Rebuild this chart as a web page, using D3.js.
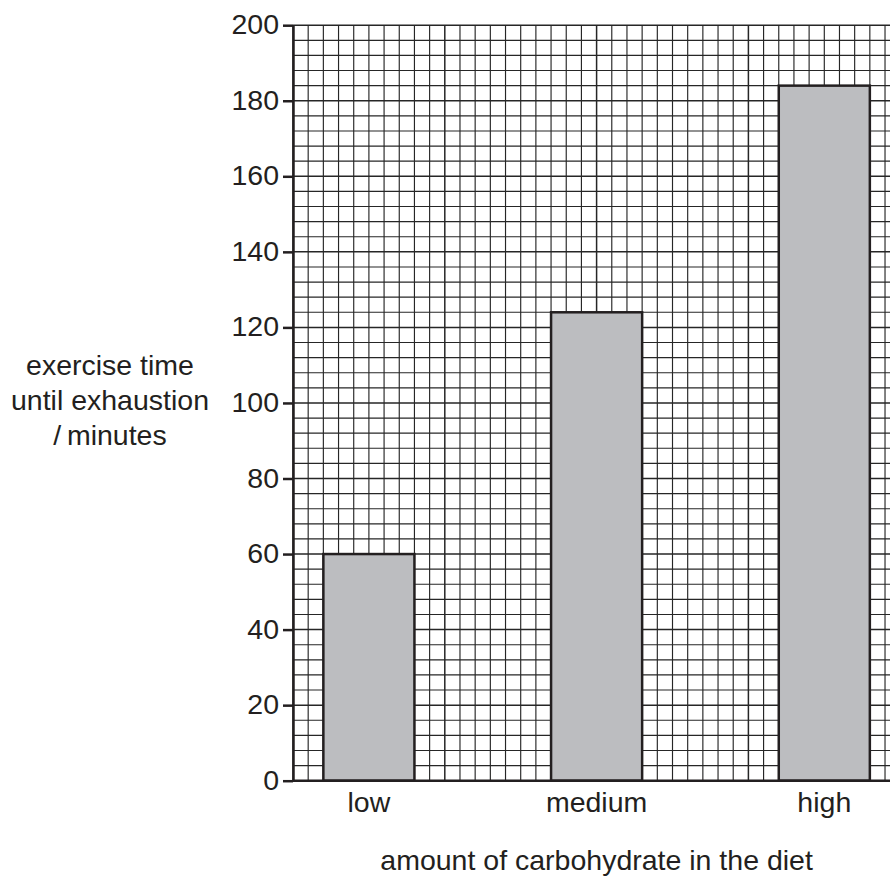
<!DOCTYPE html>
<html>
<head>
<meta charset="utf-8">
<script src="https://cdn.jsdelivr.net/npm/d3@7"></script>
<style>
  body { margin:0; background:#fff; }
  svg { display:block; }
  text { font-family:"Liberation Sans", Arial, sans-serif; fill:#231f20; }
</style>
</head>
<body>
<svg id="chart" width="890" height="876"></svg>
<script>
// ===== DATA =====
const categories = ["low", "medium", "high"];
const exerciseTime = [60, 124, 184];
const yTicks = [0, 20, 40, 60, 80, 100, 120, 140, 160, 180, 200];
const yLabelLines = ["exercise time", "until exhaustion", "/\u2009minutes"];
const xTitle = "amount of carbohydrate in the diet";

const svg = d3.select("#chart");
const plotLeft = 293, plotTop = 25.2, plotBottom = 780.7;
const cellW = 15.18;   // one small square across
const nCols = 40;

const y = d3.scaleLinear().domain([0, 200]).range([plotBottom, plotTop]);
const gx = d3.scaleLinear().domain([0, nCols]).range([plotLeft, plotLeft + nCols * cellW]);
const x = d3.scalePoint().domain(categories).range([gx(5), gx(35)]);
const barW = 6 * cellW;

// ===== GRID =====
const grid = svg.append("g").attr("stroke", "#262626");
grid.selectAll(".h").data(d3.range(0, 201, 4)).join("line")
  .attr("x1", plotLeft).attr("x2", gx(nCols))
  .attr("y1", d => y(d)).attr("y2", d => y(d))
  .attr("stroke-width", d => d % 20 === 0 ? 1.5 : 1.15);
grid.selectAll(".v").data(d3.range(0, nCols + 1)).join("line")
  .attr("x1", d => gx(d)).attr("x2", d => gx(d))
  .attr("y1", plotTop).attr("y2", plotBottom)
  .attr("stroke-width", d => d % 10 === 0 ? 1.5 : 1.15);

// ===== BARS =====
svg.selectAll("rect.bar").data(exerciseTime).join("rect")
  .attr("class", "bar")
  .attr("x", (d, i) => x(categories[i]) - barW / 2)
  .attr("width", barW)
  .attr("y", d => y(d))
  .attr("height", d => y(0) - y(d))
  .attr("fill", "#bcbdc0")
  .attr("stroke", "#231f20")
  .attr("stroke-width", 2.5);

// ===== AXES =====
const yAxis = svg.append("g").attr("transform", `translate(${plotLeft},0)`)
  .call(d3.axisLeft(y).tickValues(yTicks).tickSize(10).tickSizeOuter(0).tickPadding(4));
yAxis.select(".domain").attr("stroke", "#231f20").attr("stroke-width", 2.5);
yAxis.selectAll(".tick line").attr("stroke", "#231f20").attr("stroke-width", 2.5);
yAxis.selectAll(".tick text").attr("font-size", 28.5).attr("font-family", "Liberation Sans, Arial, sans-serif")
  .attr("fill", "#231f20").attr("dy", "0.3em");

svg.append("line")
  .attr("x1", plotLeft).attr("x2", gx(nCols))
  .attr("y1", y(0)).attr("y2", y(0))
  .attr("stroke", "#231f20").attr("stroke-width", 2.5);

svg.selectAll("text.cat").data(categories).join("text")
  .attr("class", "cat")
  .attr("x", d => x(d)).attr("y", 812)
  .attr("text-anchor", "middle").attr("font-size", 28.5)
  .text(d => d);

svg.append("text")
  .attr("x", x("medium")).attr("y", 870)
  .attr("text-anchor", "middle").attr("font-size", 28.5)
  .text(xTitle);

svg.selectAll("text.ylab").data(yLabelLines).join("text")
  .attr("class", "ylab")
  .attr("x", 110).attr("y", (d, i) => 375 + i * 35)
  .attr("text-anchor", "middle").attr("font-size", 28.5)
  .text(d => d);
</script>
</body>
</html>
